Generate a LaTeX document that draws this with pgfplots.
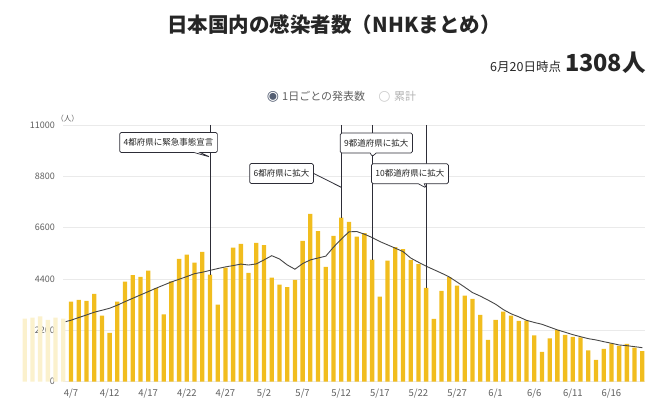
\documentclass[border=0pt]{standalone}
\usepackage{fontspec}
\setmainfont{Noto Sans CJK JP}
\newfontfamily\symfont{DejaVu Sans}
\usepackage{pgfplots}
\pgfplotsset{compat=1.18}
\usetikzlibrary{shapes.callouts}
\definecolor{baryellow}{RGB}{241,189,30}
\definecolor{fadeyellow}{RGB}{251,241,205}
\definecolor{avgline}{RGB}{70,70,70}
\definecolor{annot}{RGB}{45,45,55}
\definecolor{gridc}{RGB}{234,234,234}
\definecolor{ticktxt}{RGB}{95,95,95}
\definecolor{radiosel}{RGB}{85,95,115}
\begin{document}
\begin{tikzpicture}
\useasboundingbox (0,0) rectangle (658pt,410pt);
\node[font=\bfseries\fontsize{20.5}{20.5}\selectfont, text=black!85] at (334pt,385pt) {日本国内の感染者数（NHKまとめ）};
\node[anchor=base east, text=black!85, inner sep=0pt] at (646pt,338.5pt) {{\fontsize{12.5}{12.5}\selectfont 6月20日時点}\hspace{4pt}{\bfseries\fontsize{23.5}{23.5}\selectfont 1308人}};
\node[font=\symfont\fontsize{14}{14}\selectfont, text=radiosel] at (273pt,313.3pt) {◉};
\node[anchor=west, font=\fontsize{11}{11}\selectfont, text=ticktxt, inner sep=0pt] at (282pt,313.3pt) {1日ごとの発表数};
\node[font=\symfont\fontsize{14}{14}\selectfont, text=black!20] at (384.5pt,313.3pt) {○};
\node[anchor=west, font=\fontsize{11}{11}\selectfont, text=black!30, inner sep=0pt] at (394pt,313.3pt) {累計};
\node[font=\fontsize{7.5}{7.5}\selectfont, text=ticktxt] at (67.5pt,291pt) {（人）};
\begin{axis}[
  at={(63pt,28.3pt)}, anchor=south west,
  scale only axis, width=582pt, height=256.7pt,
  xmin=-1.04, xmax=74.35, ymin=0, ymax=11000,
  clip=false,
  axis line style={draw=none},
  major tick length=0pt,
  ytick={0,2200,4400,6600,8800,11000},
  xtick={0,5,...,70},
  xticklabels={4/7,4/12,4/17,4/22,4/27,5/2,5/7,5/12,5/17,5/22,5/27,6/1,6/6,6/11,6/16},
  extra x ticks={-5}, extra x tick labels={4/2},
  extra x tick style={xticklabel style={text=black!12}},
  ymajorgrids, grid style={gridc, line width=0.8pt},
  tick label style={text=ticktxt},
  yticklabel style={font=\fontsize{9}{9}\selectfont, xshift=-4.5pt},
  xticklabel style={font=\fontsize{9.5}{9.5}\selectfont, yshift=-4pt},
  /pgf/number format/assume math mode=true,
  /pgf/number format/1000 sep={},
  scaled y ticks=false,
]
% faded bars before 4/7
\addplot[ybar, bar width=4.3pt, bar shift=0pt, fill=fadeyellow, draw=none] coordinates {
(-6,2700) (-5,2750) (-4,2800) (-3,2650) (-2,2750) (-1,2700)};
% daily counts, day 0 = 4/7
\addplot[ybar, bar width=4.3pt, bar shift=0pt, fill=baryellow, draw=none] coordinates {
(0,3432) (1,3505) (2,3462) (3,3762) (4,2832) (5,2089) (6,3432) (7,4290) (8,4563) (9,4491)
(10,4762) (11,4005) (12,2890) (13,4300) (14,5263) (15,5450) (16,5105) (17,5563) (18,4590) (19,3300)
(20,4893) (21,5750) (22,5907) (23,4663) (24,5950) (25,5850) (26,4462) (27,4162) (28,4048) (29,4363)
(30,6036) (31,7194) (32,6452) (33,4920) (34,6250) (35,7036) (36,6851) (37,6221) (38,6366) (39,5235)
(40,3647) (41,5185) (42,5765) (43,5685) (44,5220) (45,5034) (46,4019) (47,2690) (48,3890) (49,4477)
(50,4119) (51,3690) (52,3548) (53,2861) (54,1789) (55,2647) (56,3003) (57,2832) (58,2604) (59,2617)
(60,1990) (61,1274) (62,1862) (63,2218) (64,2003) (65,1918) (66,1904) (67,1347) (68,931) (69,1403)
(70,1647) (71,1532) (72,1617) (73,1459) (74,1308)};
% 7-day average
\addplot[avgline, line width=0.9pt, no markers] coordinates {
(-0.7,2574) (0,2634) (1,2750) (2,2860) (3,2977) (4,3060) (5,3148) (6,3280) (7,3432) (8,3575) (9,3719)
(10,3860) (11,4005) (12,4140) (13,4275) (14,4390) (15,4505) (16,4630) (17,4690) (18,4770) (19,4848)
(20,4920) (21,4975) (22,5040) (23,5000) (24,5048) (25,5220) (26,5400) (27,5260) (28,5006) (29,4820)
(30,5060) (31,5220) (32,5300) (33,5380) (34,5765) (35,6107) (36,6422) (37,6436) (38,6322) (39,6178)
(40,6006) (41,5865) (42,5722) (43,5577) (44,5300) (45,5120) (46,4950) (47,4800) (48,4650) (49,4490)
(50,4270) (51,4050) (52,3820) (53,3670) (54,3500) (55,3320) (56,3090) (57,2910) (58,2780) (59,2630)
(60,2540) (61,2460) (62,2340) (63,2220) (64,2120) (65,2016) (66,1930) (67,1845) (68,1789) (69,1716)
(70,1647) (71,1574) (72,1544) (73,1501) (74,1459)};
% event lines
\draw[annot, line width=0.8pt] (axis cs:18,11000) -- (axis cs:18,4590);
\draw[annot, line width=0.8pt] (axis cs:35,11000) -- (axis cs:35,7036);
\draw[annot, line width=0.8pt] (axis cs:39,11000) -- (axis cs:39,5235);
\draw[annot, line width=0.8pt] (axis cs:46,11000) -- (axis cs:46,4019);
% callouts
\node[rectangle callout, draw=annot, fill=white, line width=0.7pt, rounded corners=1.5pt,
  callout absolute pointer={(axis cs:18,9628)}, callout pointer width=6pt,
  minimum height=20pt, inner xsep=4pt, font=\fontsize{8.5}{8.5}\selectfont, text=black!85]
  at (axis cs:12.63,10250) {4都府県に緊急事態宣言};
\node[draw=annot, fill=white, line width=0.7pt, rounded corners=1.5pt,
  minimum height=20pt, inner xsep=4pt, font=\fontsize{8.5}{8.5}\selectfont, text=black!85]
  (box2) at (axis cs:27.27,8921) {6都府県に拡大};
\draw[annot, line width=0.8pt] (box2.east) -- (axis cs:35,8330);
\node[rectangle callout, draw=annot, fill=white, line width=0.7pt, rounded corners=1.5pt,
  callout absolute pointer={(axis cs:39,9650)}, callout pointer width=6pt,
  minimum height=20pt, inner xsep=4pt, font=\fontsize{8.5}{8.5}\selectfont, text=black!85]
  at (axis cs:39.55,10228) {9都道府県に拡大};
\node[rectangle callout, draw=annot, fill=white, line width=0.7pt, rounded corners=1.5pt,
  callout absolute pointer={(axis cs:46,8300)}, callout pointer width=6pt,
  minimum height=20pt, inner xsep=4pt, font=\fontsize{8.5}{8.5}\selectfont, text=black!85]
  at (axis cs:43.9,8913) {10都道府県に拡大};
\end{axis}
\end{tikzpicture}
\end{document}
